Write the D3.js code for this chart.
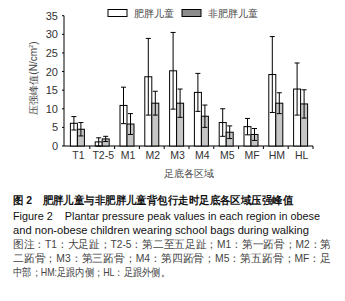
<!DOCTYPE html>
<html>
<head>
<meta charset="utf-8">
<script src="https://cdn.jsdelivr.net/npm/d3@7"></script>
<style>
  body { margin: 0; background: #fff; }
  svg { display: block; font-family: "Liberation Sans", Arial, sans-serif; }
  .cap { white-space: pre; }
</style>
</head>
<body>
<div id="chart"></div>
<script>
// Dados
const categories = ['T1', 'T2-5', 'M1', 'M2', 'M3', 'M4', 'M5', 'MF', 'HM', 'HL'];
const obese = [6.1, 1.1, 10.9, 18.6, 20.2, 14.4, 6.3, 5.2, 19.2, 15.3];
const obeseSD = [1.8, 1.1, 4.9, 10.3, 10.3, 5.1, 3.7, 2.2, 10.2, 7.0];
const nonObese = [4.5, 1.9, 5.9, 11.5, 11.5, 8.0, 3.7, 3.1, 11.5, 11.3];
const nonObeseSD = [1.8, 0.7, 2.8, 3.2, 3.8, 3.0, 1.7, 1.6, 2.8, 3.8];
const yTicks = [0, 5, 10, 15, 20, 25, 30, 35];
const seriesNames = ['肥胖儿童', '非肥胖儿童'];
const captionLines = [
  '图 2　肥胖儿童与非肥胖儿童背包行走时足底各区域压强峰值',
  'Figure 2    Plantar pressure peak values in each region in obese',
  'and non-obese children wearing school bags during walking',
  '图注：T1：大足趾；T2-5：第二至五足趾；M1：第一跖骨；M2：第',
  '二跖骨；M3：第三跖骨；M4：第四跖骨；M5：第五跖骨；MF：足',
  '中部；HM:足跟内侧；HL：足跟外侧。'
];

const W = 345, H = 301;
const svg = d3.select('#chart').append('svg')
  .attr('width', W).attr('height', H);

const x = d3.scaleBand().domain(categories).range([65, 313]);
const y = d3.scaleLinear().domain([0, 35]).range([146, 15.7]);
const barW = 7;

// Eixo Y
svg.append('line')
  .attr('x1', 64).attr('x2', 64)
  .attr('y1', y(35)).attr('y2', y(0))
  .attr('stroke', '#000').attr('stroke-width', 1);

yTicks.forEach(t => {
  svg.append('line')
    .attr('x1', 62).attr('x2', 64)
    .attr('y1', y(t)).attr('y2', y(t))
    .attr('stroke', '#000');
  svg.append('text')
    .attr('x', 58).attr('y', y(t) + 4)
    .attr('text-anchor', 'end')
    .attr('font-size', 11)
    .attr('fill', '#333')
    .text(t);
});

svg.append('text')
  .attr('transform', `translate(37,78) rotate(-90)`)
  .attr('text-anchor', 'middle')
  .attr('font-size', 10)
  .attr('fill', '#444')
  .html('压强峰值(N/cm<tspan dy="-4" font-size="6">2</tspan><tspan dy="4">)</tspan>');

// Eixo X
svg.append('line')
  .attr('x1', 64).attr('x2', 313)
  .attr('y1', y(0)).attr('y2', y(0))
  .attr('stroke', '#000');

categories.forEach((c, i) => {
  if (i > 0) {
    svg.append('line')
      .attr('x1', x(c)).attr('x2', x(c))
      .attr('y1', y(0)).attr('y2', y(0) + 3)
      .attr('stroke', '#000');
  }
  svg.append('text')
    .attr('x', x(c) + x.bandwidth() / 2 + 1)
    .attr('y', 159)
    .attr('text-anchor', 'middle')
    .attr('font-size', 10.5)
    .attr('fill', '#333')
    .text(c);
});
svg.append('line')
  .attr('x1', 313).attr('x2', 313)
  .attr('y1', y(0)).attr('y2', y(0) + 3)
  .attr('stroke', '#000');

svg.append('text')
  .attr('x', 189).attr('y', 177)
  .attr('text-anchor', 'middle')
  .attr('font-size', 10)
  .attr('fill', '#444')
  .text('足底各区域');

// Barras
const series = [
  { vals: obese, sd: obeseSD, fill: '#fff', off: -barW },
  { vals: nonObese, sd: nonObeseSD, fill: '#c6c6c6', off: 0 }
];

series.forEach(s => {
  categories.forEach((c, i) => {
    const cx = x(c) + x.bandwidth() / 2 + s.off;
    svg.append('rect')
      .attr('x', cx).attr('y', y(s.vals[i]))
      .attr('width', barW).attr('height', y(0) - y(s.vals[i]))
      .attr('fill', s.fill).attr('stroke', '#000').attr('stroke-width', 1);
  });
});

// Barras de erro
series.forEach(s => {
  categories.forEach((c, i) => {
    const mx = x(c) + x.bandwidth() / 2 + s.off + barW / 2;
    const hi = y(s.vals[i] + s.sd[i]);
    const lo = y(Math.max(0, s.vals[i] - s.sd[i]));
    svg.append('line')
      .attr('x1', mx).attr('x2', mx).attr('y1', hi).attr('y2', lo)
      .attr('stroke', '#000');
    [hi, lo].forEach(yy => {
      svg.append('line')
        .attr('x1', mx - 2.5).attr('x2', mx + 2.5)
        .attr('y1', yy).attr('y2', yy)
        .attr('stroke', '#000');
    });
  });
});

// Legenda
const legend = svg.append('g');
[{ x: 108, fill: '#fff' }, { x: 182, fill: '#8c8c8c' }].forEach((l, i) => {
  legend.append('rect')
    .attr('x', l.x).attr('y', 9.5)
    .attr('width', 19).attr('height', 7)
    .attr('fill', l.fill).attr('stroke', '#000');
  legend.append('text')
    .attr('x', l.x + 26).attr('y', 17)
    .attr('font-size', 10)
    .attr('fill', '#444')
    .text(seriesNames[i]);
});

// Legenda da figura
const capY = [204, 220, 234, 248, 262, 276];
const capLen = [280, 307, 296, 318, 318, 157];
captionLines.forEach((t, i) => {
  svg.append('text')
    .attr('class', 'cap')
    .attr('x', 13).attr('y', capY[i])
    .attr('font-size', i === 0 ? 11 : 10.5)
    .attr('font-weight', i === 0 ? 'bold' : 'normal')
    .attr('fill', i < 3 ? '#111' : '#444')
    .attr('textLength', capLen[i])
    .attr('lengthAdjust', 'spacingAndGlyphs')
    .text(t);
});
</script>
</body>
</html>
